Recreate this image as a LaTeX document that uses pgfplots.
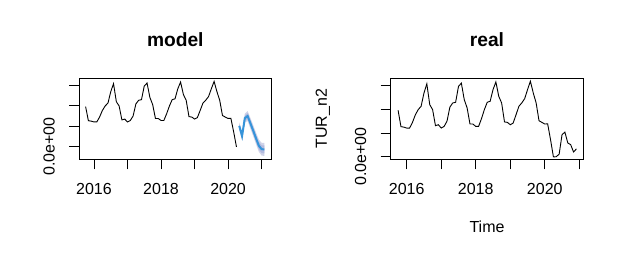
\documentclass[border=0pt]{standalone}
\usepackage{fontspec}
\setmainfont{Liberation Sans}
\usepackage{pgfplots}
\pgfplotsset{compat=1.18}
\definecolor{fcline}{RGB}{54,148,218}
\definecolor{band95}{RGB}{208,211,232}
\definecolor{band80}{RGB}{178,186,222}

\pgfplotstableread{
x v
2015.750 1.96
2015.833 1.27
2015.917 1.25
2016.000 1.21
2016.083 1.21
2016.167 1.45
2016.250 1.77
2016.333 1.99
2016.417 2.13
2016.500 2.69
2016.583 3.08
2016.667 2.20
2016.750 1.99
2016.833 1.31
2016.917 1.35
2017.000 1.21
2017.083 1.28
2017.167 1.50
2017.250 2.09
2017.333 2.27
2017.417 2.30
2017.500 2.97
2017.583 3.11
2017.667 2.41
2017.750 2.06
2017.833 1.38
2017.917 1.38
2018.000 1.28
2018.083 1.28
2018.167 1.61
2018.250 1.99
2018.333 2.30
2018.417 2.34
2018.500 2.83
2018.583 3.16
2018.667 2.55
2018.750 2.27
2018.833 1.47
2018.917 1.45
2019.000 1.35
2019.083 1.42
2019.167 1.77
2019.250 2.13
2019.333 2.27
2019.417 2.45
2019.500 2.83
2019.583 3.19
2019.667 2.69
2019.750 2.27
2019.833 1.52
2019.917 1.45
2020.000 1.38
2020.083 1.39
2020.167 0.72
2020.250 -0.01
}\train

\pgfplotstableread{
x v
2020.250 -0.01
2020.333 0.00
2020.417 0.11
2020.500 0.93
2020.583 1.04
2020.667 0.58
2020.750 0.51
2020.833 0.20
2020.917 0.33
}\rest

\pgfplotstableread{
x f hi95 hi80
2020.333 1.02 1.20 1.13
2020.417 0.52 0.72 0.64
2020.500 1.40 1.62 1.53
2020.583 1.50 1.74 1.64
2020.667 1.14 1.40 1.29
2020.750 0.78 1.05 0.94
2020.833 0.41 0.69 0.58
2020.917 0.05 0.35 0.23
2021.000 -0.12 0.19 0.07
2021.083 -0.13 0.19 0.07
}\fc

\pgfplotsset{
  rpanel/.style={
    scale only axis, width=192.6pt, height=81.3pt,
    anchor=south west,
    axis line style={line width=0.9pt},
    every tick/.style={black, line width=0.9pt},
    tick align=outside, major tick length=10pt,
    xtick pos=bottom, ytick pos=left,
    xtick={2016,2017,2018,2019,2020,2021},
    xticklabels={2016,,2018,,2020,},
    ytick={0,1,2,3},
    yticklabels={0.0e+00,,,},
    font=\fontsize{16}{19.2}\selectfont,
    xticklabel style={anchor=center, yshift=-19.4pt},
    yticklabel style={xshift=-20pt, rotate=90, anchor=center},
    title style={at={(axis description cs:0.5,1.40)}, anchor=center,
      font=\fontsize{19.2}{23}\selectfont\bfseries},
    clip=false,
  }
}

\begin{document}
\begin{tikzpicture}
\useasboundingbox[fill=white] (0pt,0pt) rectangle (624pt,258pt);
\begin{axis}[rpanel, at={(79pt,98.7pt)},
  xmin=2015.553, xmax=2021.298, ymin=-0.615, ymax=3.357,
  title={model}]
\addplot[black, line width=0.9pt] table[x=x, y=v] {\train};
\addplot[fill=band95, draw=none] table[x=x, y=hi95] {\fc} --
  plot coordinates {(2021.083,-0.45) (2021.000,-0.43) (2020.917,-0.25) (2020.833,0.13) (2020.750,0.51) (2020.667,0.88) (2020.583,1.26) (2020.500,1.18) (2020.417,0.32) (2020.333,0.84)} -- cycle;
\addplot[fill=band80, draw=none] table[x=x, y=hi80] {\fc} --
  plot coordinates {(2021.083,-0.33) (2021.000,-0.31) (2020.917,-0.13) (2020.833,0.24) (2020.750,0.62) (2020.667,0.99) (2020.583,1.36) (2020.500,1.27) (2020.417,0.40) (2020.333,0.91)} -- cycle;
\addplot[fcline, line width=2pt] table[x=x, y=f] {\fc};
\end{axis}
\begin{axis}[rpanel, at={(390.7pt,98.7pt)},
  xmin=2015.536, xmax=2021.116, ymin=-0.11, ymax=3.325,
  title={real}, xlabel={Time}, ylabel={TUR\_n2},
  xlabel style={at={(axis description cs:0.5,-0.834)}, anchor=center},
  ylabel style={at={(axis description cs:-0.352,0.5)}, anchor=center}]
\addplot[black, line width=0.9pt] table[x=x, y=v] {\train};
\addplot[black, line width=0.9pt] table[x=x, y=v] {\rest};
\end{axis}
\end{tikzpicture}
\end{document}
